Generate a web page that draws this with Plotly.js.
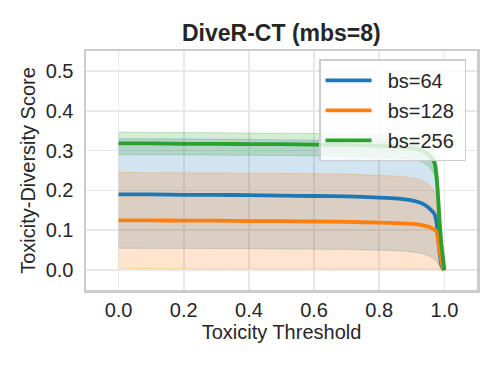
<!DOCTYPE html>
<html>
<head>
<meta charset="utf-8">
<script src="https://cdn.plot.ly/plotly-3.0.1.min.js"></script>
<style>html,body{margin:0;padding:0;background:#fff;}#chart{width:498px;height:367px;}</style>
</head>
<body>
<div id="chart"></div>
<script>
const thresholds = [0, 0.1, 0.2, 0.3, 0.4, 0.5, 0.6, 0.7, 0.8, 0.85, 0.9, 0.93, 0.95, 0.96, 0.97, 0.975, 0.98, 0.985, 0.99, 0.995, 1.0];

const seriesNames = ["bs=64", "bs=128", "bs=256"];

const bs64Mean  = [0.190,0.190,0.189,0.189,0.188,0.187,0.186,0.185,0.182,0.180,0.175,0.168,0.158,0.150,0.140,0.125,0.085,0.045,0.015,0.005,0.0];
const bs64Upper = [0.330,0.330,0.329,0.329,0.328,0.327,0.326,0.325,0.322,0.320,0.314,0.305,0.292,0.282,0.265,0.250,0.210,0.150,0.090,0.040,0.0];
const bs64Lower = [0.055,0.055,0.054,0.054,0.054,0.053,0.053,0.052,0.050,0.049,0.046,0.042,0.037,0.033,0.027,0.022,0.015,0.008,0.003,0.001,0.0];

const bs128Mean  = [0.125,0.125,0.124,0.124,0.123,0.123,0.122,0.121,0.119,0.118,0.116,0.113,0.109,0.106,0.101,0.098,0.080,0.050,0.025,0.008,0.0];
const bs128Upper = [0.245,0.245,0.244,0.244,0.243,0.243,0.242,0.241,0.238,0.236,0.232,0.226,0.216,0.208,0.195,0.185,0.155,0.100,0.050,0.015,0.0];
const bs128Lower = [0.004,0.004,0.004,0.004,0.004,0.004,0.004,0.004,0.004,0.004,0.004,0.004,0.004,0.004,0.003,0.003,0.002,0.001,0.001,0.0,0.0];

const bs256Mean  = [0.318,0.318,0.317,0.317,0.316,0.316,0.315,0.314,0.312,0.310,0.306,0.300,0.291,0.283,0.268,0.240,0.190,0.120,0.070,0.035,0.0];
const bs256Upper = [0.346,0.346,0.345,0.345,0.344,0.344,0.343,0.342,0.340,0.338,0.334,0.328,0.318,0.310,0.295,0.280,0.250,0.190,0.125,0.060,0.0];
const bs256Lower = [0.290,0.290,0.289,0.289,0.288,0.288,0.287,0.286,0.284,0.282,0.278,0.272,0.262,0.253,0.238,0.215,0.170,0.100,0.050,0.020,0.0];

const xTicks = [0, 0.2, 0.4, 0.6, 0.8, 1.0];
const xTickText = ["0.0", "0.2", "0.4", "0.6", "0.8", "1.0"];
const yTicks = [0, 0.1, 0.2, 0.3, 0.4, 0.5];
const yTickText = ["0.0", "0.1", "0.2", "0.3", "0.4", "0.5"];

const colors = ["#1f77b4", "#ff7f0e", "#2ca02c"];
const rgb = ["31,119,180", "255,127,14", "44,160,44"];
const means = [bs64Mean, bs128Mean, bs256Mean];
const uppers = [bs64Upper, bs128Upper, bs256Upper];
const lowers = [bs64Lower, bs128Lower, bs256Lower];

const traces = [];
for (let i = 0; i < 3; i++) {
  traces.push({
    x: thresholds, y: lowers[i], type: "scatter", mode: "lines",
    line: {color: "rgba(" + rgb[i] + ",0.25)", width: 1},
    showlegend: false, hoverinfo: "skip"
  });
  traces.push({
    x: thresholds, y: uppers[i], type: "scatter", mode: "lines",
    fill: "tonexty", fillcolor: "rgba(" + rgb[i] + ",0.2)",
    line: {color: "rgba(" + rgb[i] + ",0.25)", width: 1},
    showlegend: false, hoverinfo: "skip"
  });
}
for (let i = 0; i < 3; i++) {
  traces.push({
    x: thresholds, y: means[i], type: "scatter", mode: "lines",
    name: "\u00a0\u00a0" + seriesNames[i] + "\u00a0", legendgroup: "g" + i,
    line: {color: colors[i], width: 3.8, shape: "spline", smoothing: 0.4}
  });
}

const fontFam = "Liberation Sans, Arial, sans-serif";
const layout = {
  width: 498, height: 367,
  margin: {l: 86, r: 21, t: 51, b: 77},
  paper_bgcolor: "#ffffff", plot_bgcolor: "#ffffff",
  font: {family: fontFam, size: 20, color: "#262626"},
  title: {text: "<b>DiveR-CT (mbs=8)</b>", font: {family: fontFam, size: 23, color: "#262626"},
          x: 0.565, xanchor: "center", y: 0.91, yanchor: "middle"},
  xaxis: {
    range: [-0.1, 1.1], tickvals: xTicks, ticktext: xTickText,
    showgrid: true, gridcolor: "#e8e8e8", gridwidth: 1.6,
    zeroline: false, showline: true, mirror: true, linecolor: "#cccccc", linewidth: 2.5,
    ticks: "", ticklabelstandoff: 0,
    tickfont: {size: 20, color: "#262626"},
    title: {text: "Toxicity Threshold", font: {size: 20, color: "#262626"}, standoff: 5}
  },
  yaxis: {
    range: [-0.05, 0.55], tickvals: yTicks, ticktext: yTickText,
    showgrid: true, gridcolor: "#e8e8e8", gridwidth: 1.6,
    zeroline: false, showline: true, mirror: true, linecolor: "#cccccc", linewidth: 2.5,
    ticks: "", ticklabelstandoff: 6,
    tickfont: {size: 20, color: "#262626"},
    title: {text: "Toxicity-Diversity Score", font: {size: 20, color: "#262626"}, standoff: 5}
  },
  legend: {
    x: 0.972, xanchor: "right", y: 0.965, yanchor: "top",
    bgcolor: "rgba(255,255,255,0.8)", bordercolor: "#cccccc", borderwidth: 1.5,
    font: {size: 20, color: "#262626"}, traceorder: "grouped", tracegroupgap: 1,
    itemwidth: 46
  },
  showlegend: true
};

Plotly.newPlot("chart", traces, layout, {displayModeBar: false, staticPlot: true});
</script>
</body>
</html>
